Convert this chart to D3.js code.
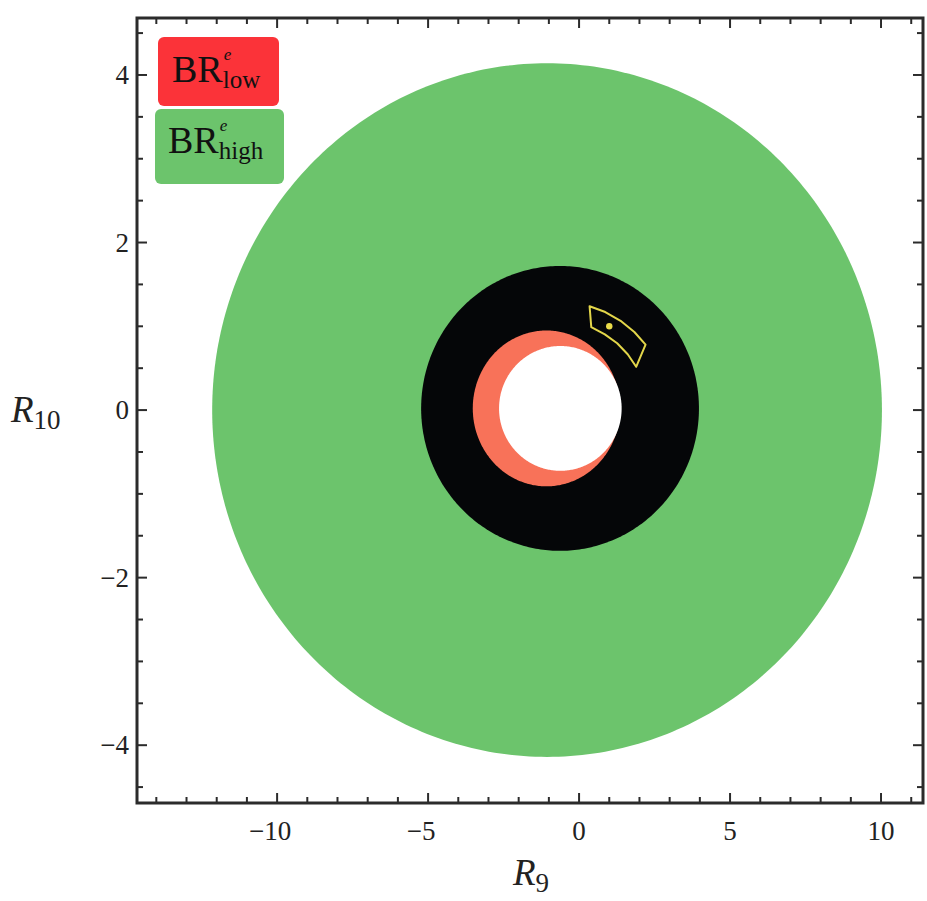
<!DOCTYPE html>
<html>
<head>
<meta charset="utf-8">
<script src="https://cdn.jsdelivr.net/npm/d3@7"></script>
<style>
  html, body { margin: 0; padding: 0; background: #fff; }
  svg { display: block; }
  text { font-family: "Liberation Serif", "DejaVu Serif", serif; }
</style>
</head>
<body>
<svg id="chart" width="927" height="901"></svg>
<script>
// ---- Data ----
// Regions drawn as filled ellipses in (R9, R10) space
const regionNames = ["BRhigh", "ring", "BRlow", "hole"];
const regionCenters = [[-1.06, 0.0], [-0.63, 0.02], [-1.08, 0.02], [-0.62, 0.02]];
const regionRadii = [[11.09, 4.14], [4.60, 1.70], [2.44, 0.93], [2.03, 0.745]];
const regionColors = ["#6cc46c", "#050608", "#f87259", "#ffffff"];

// Yellow contour (annular sector) vertices in (R9, R10)
const sectorR9  = [0.348, 0.868, 1.404, 1.831, 2.202, 1.891, 1.610, 1.262, 0.854, 0.404];
const sectorR10 = [1.240, 1.170, 1.058, 0.932, 0.781, 0.517, 0.667, 0.797, 0.904, 0.990];
// Best-fit point
const bestPoint = [1.0, 1.0];

// Axis ticks
const xMajor = [-10, -5, 0, 5, 10];
const xMinor = d3.range(-14, 12, 1);
const yMajor = [-4, -2, 0, 2, 4];
const yMinor = d3.range(-4.5, 4.51, 0.5);

// Legend
const legendItems = [
  {base: "BR", sup: "e", sub: "low", color: "#fb3339"},
  {base: "BR", sup: "e", sub: "high", color: "#6cc46c"}
];

// ---- Layout ----
const svg = d3.select("#chart");
const L = 137, R = 923, T = 18, B = 803;
const x = d3.scaleLinear().domain([-14.64, 11.39]).range([L, R]);
const y = d3.scaleLinear().domain([-4.69, 4.68]).range([B, T]);

svg.append("clipPath").attr("id", "clip")
  .append("rect").attr("x", L).attr("y", T).attr("width", R - L).attr("height", B - T);

const plot = svg.append("g").attr("clip-path", "url(#clip)");

const angles = d3.range(0, 360, 1).map(a => a * Math.PI / 180);
const line = d3.line().x(d => x(d[0])).y(d => y(d[1])).curve(d3.curveLinearClosed);

regionNames.forEach((name, i) => {
  const [cx, cy] = regionCenters[i];
  const [rx, ry] = regionRadii[i];
  const pts = angles.map(t => [cx + rx * Math.cos(t), cy + ry * Math.sin(t)]);
  plot.append("path").attr("d", line(pts)).attr("fill", regionColors[i]);
});

// Yellow sector
const sectorPts = sectorR9.map((v, i) => [v, sectorR10[i]]);
plot.append("path")
  .attr("d", line(sectorPts))
  .attr("fill", "none").attr("stroke", "#e3d64a").attr("stroke-width", 2).attr("stroke-linejoin", "round");
plot.append("circle").attr("cx", x(bestPoint[0])).attr("cy", y(bestPoint[1])).attr("r", 3.2).attr("fill", "#eadc4a");

// ---- Frame and ticks ----
const axisColor = "#2b2b2b";
const ticks = svg.append("g").attr("stroke", axisColor).attr("stroke-width", 2);
const majLen = 10, minLen = 6;
xMinor.forEach(v => {
  const len = xMajor.includes(v) ? majLen : minLen;
  ticks.append("line").attr("x1", x(v)).attr("x2", x(v)).attr("y1", B).attr("y2", B - len);
  ticks.append("line").attr("x1", x(v)).attr("x2", x(v)).attr("y1", T).attr("y2", T + len);
});
yMinor.forEach(v => {
  const len = yMajor.some(m => Math.abs(m - v) < 1e-9) ? majLen : minLen;
  ticks.append("line").attr("y1", y(v)).attr("y2", y(v)).attr("x1", L).attr("x2", L + len);
  ticks.append("line").attr("y1", y(v)).attr("y2", y(v)).attr("x1", R).attr("x2", R - len);
});
svg.append("rect").attr("x", L).attr("y", T).attr("width", R - L).attr("height", B - T)
  .attr("fill", "none").attr("stroke", axisColor).attr("stroke-width", 3);

const fmt = v => (v < 0 ? "\u2212" + Math.abs(v) : String(v));
svg.append("g").selectAll("text").data(xMajor).join("text")
  .attr("x", d => x(d) - (d < 0 ? 7 : 0)).attr("y", B + 37)
  .attr("text-anchor", "middle").attr("font-size", 27).attr("fill", "#222")
  .text(fmt);
svg.append("g").selectAll("text").data(yMajor).join("text")
  .attr("x", L - 8).attr("y", d => y(d) + 9)
  .attr("text-anchor", "end").attr("font-size", 27).attr("fill", "#222")
  .text(fmt);

// Axis titles
const xt = svg.append("text").attr("x", 513).attr("y", 885).attr("font-size", 37).attr("fill", "#222");
xt.append("tspan").attr("font-style", "italic").text("R");
xt.append("tspan").attr("font-size", 27).attr("dy", 7).text("9");
const yt = svg.append("text").attr("x", 11).attr("y", 422).attr("font-size", 37).attr("fill", "#222");
yt.append("tspan").attr("font-style", "italic").text("R");
yt.append("tspan").attr("font-size", 27).attr("dy", 7).text("10");

// ---- Legend ----
const legendBoxes = [[158, 37, 121, 69], [155, 109, 129, 75]];
const legendText = [[172, 82], [168, 153]];
legendItems.forEach((it, i) => {
  const [bx, by, bw, bh] = legendBoxes[i];
  const [tx, ty] = legendText[i];
  const g = svg.append("g");
  g.append("rect").attr("x", bx).attr("y", by).attr("width", bw).attr("height", bh)
    .attr("rx", 6).attr("fill", it.color);
  const base = g.append("text").attr("x", tx).attr("y", ty)
    .attr("font-size", 38).attr("fill", "#111").text(it.base);
  const w = base.node().getComputedTextLength();
  g.append("text").attr("x", tx + w + 1).attr("y", ty - 22)
    .attr("font-size", 17).attr("font-style", "italic").attr("fill", "#111").text(it.sup);
  g.append("text").attr("x", tx + w).attr("y", ty + 6)
    .attr("font-size", 25).attr("fill", "#111").text(it.sub);
});
</script>
</body>
</html>
